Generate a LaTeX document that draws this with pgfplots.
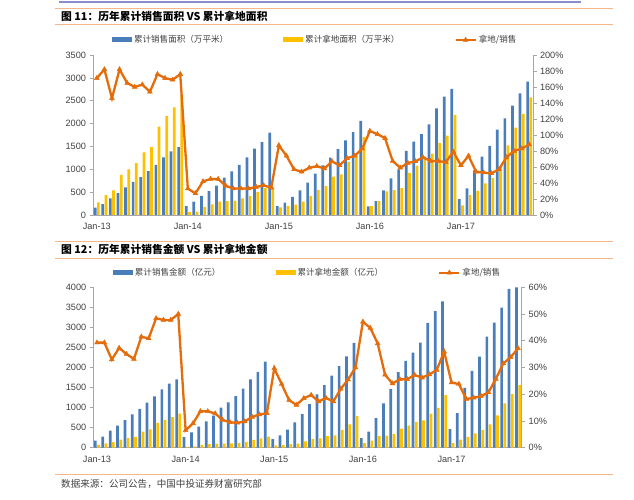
\documentclass[border=0pt]{standalone}
\usepackage{fontspec}
\usepackage{pgfplots}
\usepackage{pgfplotstable}
\pgfplotsset{compat=1.18}
\setmainfont{Liberation Sans}
\newfontfamily\cjk{Noto Sans CJK SC}
\definecolor{cblue}{HTML}{4A7EBB}
\definecolor{cyellow}{HTML}{FFC000}
\definecolor{corange}{HTML}{E46C0A}
\definecolor{csep}{HTML}{F8B58A}
\definecolor{ctop}{HTML}{8A8CCB}
\definecolor{caxis}{HTML}{A6A6A6}
\definecolor{ctxt}{HTML}{404040}

\pgfplotstableread{
i sale land ratio
0 160 277 171
1 240 437 182
2 365 540 146
3 481 875 182
4 605 999 165
5 722 1137 160
6 831 1371 163
7 962 1487 154
8 1094 1932 176
9 1261 2165 171
10 1392 2355 169
11 1487 2624 176
12 192 65 33
13 292 72 27
14 416 175 42
15 520 233 45
16 641 290 45
17 820 305 36.5
18 955 316 33
19 1094 362 33
20 1258 412 33
21 1451 505 35
22 1594 592 37
23 1801 612 34
24 192 166 87
25 272 200 74
26 397 226 57
27 539 292 54
28 707 416 59
29 906 550 61
30 1088 632 58
31 1256 840 67
32 1443 888 62
33 1630 1160 71
34 1815 1320 74
35 2060 1710 83
36 186 195 105
37 306 306 101
38 539 515 96
39 802 545 67.5
40 999 590 59
41 1400 920 65
42 1604 1080 67
43 1768 1275 72
44 1983 1340 67.5
45 2333 1570 67.5
46 2590 1735 66
47 2760 2190 79
48 345 213 62
49 583 432 74
50 975 530 54
51 1276 690 53
52 1512 805 52
53 1868 1050 57
54 2115 1522 72
55 2394 1910 80
56 2661 2210 83
57 2916 2575 88
}\dataA

\pgfplotstableread{
i sale land ratio
0 178 69 39.3
1 274 105 39.3
2 428 138 33
3 553 203 37.3
4 690 242 35
5 832 272 33.2
6 969 400 41.5
7 1123 455 40.9
8 1281 618 48.4
9 1455 692 47.8
10 1597 760 47.8
11 1705 850 50
12 262 20 6.5
13 383 35 9.1
14 528 71 13.6
15 657 89 13.6
16 798 102 12.8
17 1002 103 10.4
18 1131 107 9.5
19 1289 120 9.3
20 1476 145 9.8
21 1705 196 11.5
22 1892 235 12.4
23 2146 277 12.9
24 216 60 29.7
25 308 70 23.8
26 449 90 17.8
27 632 100 16
28 840 155 18.5
29 1089 213 19.7
30 1331 230 17.3
31 1559 290 18.6
32 1800 310 17.3
33 2037 447 22
34 2275 582 25.5
35 2611 785 30
36 241 114 47.1
37 403 179 44.8
38 740 289 39
39 1106 301 27.3
40 1464 345 24
41 1884 478 25.6
42 2166 552 25.6
43 2370 643 27.2
44 2620 680 26.2
45 3114 848 27.4
46 3405 995 29.1
47 3647 1312 35.9
48 466 111 24.4
49 861 200 23.8
50 1493 270 18.2
51 1917 358 18.7
52 2270 445 19.3
53 2769 582 20.7
54 3122 808 25.7
55 3493 1103 31.5
56 3958 1338 33.8
57 4000 1560 37.2
}\dataB

\pgfplotsset{
  baseaxis/.style={
    scale only axis,
    xmin=-0.5, xmax=57.5,
    axis line style={caxis, line width=0.8bp},
    major tick length=3.5bp, tick align=outside,
    tick style={caxis, line width=0.6bp},
    tick label style={font=\fontsize{9.2}{10}\selectfont, text=ctxt},
    /pgf/number format/assume math mode=true,
    scaled y ticks=false,
    yticklabel style={/pgf/number format/1000 sep={}},
  },
  leftaxis/.style={
    baseaxis,
    axis x line*=bottom, axis y line*=left,
    x axis line style={-}, y axis line style={-},
    xtick={0,12,24,36,48},
    xticklabels={Jan-13,Jan-14,Jan-15,Jan-16,Jan-17},
    xtick style={draw=none},
    xticklabel style={yshift=-1bp},
    legend columns=3,
    legend style={draw=none, fill=none, inner sep=0pt,
      font=\cjk\fontsize{8.6}{10}\selectfont, text=ctxt,
      /tikz/every even column/.append style={column sep=53bp}},
  },
  rightaxis/.style={
    baseaxis,
    axis y line*=right, axis x line=none,
    y axis line style={-},
    yticklabel={\pgfmathprintnumber{\tick}\%},
  },
  bluebar/.style={ybar, bar width=2.7bp, bar shift=-1.6bp, fill=cblue, draw=none,
    legend image code/.code={\fill[cblue] (0bp,-2.5bp) rectangle (20bp,2.5bp);}},
  yellowbar/.style={ybar, bar width=2.7bp, bar shift=1.6bp, fill=cyellow, draw=none,
    legend image code/.code={\fill[cyellow] (0bp,-2.5bp) rectangle (20bp,2.5bp);}},
  ratioline/.style={corange, line width=2.3bp, mark=triangle*, mark size=2.8bp,
    mark options={fill=corange, line width=0.4bp},
    legend image code/.code={\draw[mark repeat=2,mark phase=2,##1] plot coordinates {(0bp,0bp) (10bp,0bp) (20bp,0bp)};}},
}

\begin{document}
\begin{tikzpicture}
\path[use as bounding box] (0bp,0bp) rectangle (634bp,500bp);
% ---------- header of figure 11
\draw[ctop, line width=2bp] (59bp,498.3bp) -- (581bp,498.3bp);
\draw[csep, line width=1bp] (55bp,491bp) -- (613bp,491bp);
\node[anchor=west, inner sep=0pt, font=\cjk\bfseries\fontsize{10.8}{12}\selectfont] at (61bp,484bp) {图\ 11：历年累计销售面积 VS 累计拿地面积};
\draw[csep, line width=1bp] (55bp,475bp) -- (613bp,475bp);
% ---------- figure 11
\begin{axis}[leftaxis, at={(93bp,285bp)}, anchor=south west, width=440bp, height=160bp,
  ymin=0, ymax=3500, ytick={0,500,...,3500},
  legend style={at={(0.505,1.094)}, anchor=center}]
\addplot[bluebar] table[x=i,y=sale]{\dataA};
\addlegendentry{累计销售面积（万平米）}
\addplot[yellowbar] table[x=i,y=land]{\dataA};
\addlegendentry{累计拿地面积（万平米）}
\addlegendimage{ratioline}
\addlegendentry{拿地/销售}
\end{axis}
\begin{axis}[rightaxis, at={(93bp,285bp)}, anchor=south west, width=440bp, height=160bp,
  ymin=0, ymax=200, ytick={0,20,...,200}]
\addplot[ratioline] table[x=i,y=ratio]{\dataA};
\end{axis}
% ---------- header of figure 12
\draw[csep, line width=1bp] (55bp,258.3bp) -- (613bp,258.3bp);
\node[anchor=west, inner sep=0pt, font=\cjk\bfseries\fontsize{10.8}{12}\selectfont] at (61bp,251bp) {图\ 12：历年累计销售金额 VS 累计拿地金额};
\draw[csep, line width=1bp] (55bp,241.7bp) -- (613bp,241.7bp);
% ---------- figure 12
\begin{axis}[leftaxis, at={(93.3bp,52.3bp)}, anchor=south west, width=428.4bp, height=160.4bp,
  ymin=0, ymax=4000, ytick={0,500,...,4000},
  legend style={at={(0.5,1.091)}, anchor=center}]
\addplot[bluebar] table[x=i,y=sale]{\dataB};
\addlegendentry{累计销售金额（亿元）}
\addplot[yellowbar] table[x=i,y=land]{\dataB};
\addlegendentry{累计拿地金额（亿元）}
\addlegendimage{ratioline}
\addlegendentry{拿地/销售}
\end{axis}
\begin{axis}[rightaxis, at={(93.3bp,52.3bp)}, anchor=south west, width=428.4bp, height=160.4bp,
  ymin=0, ymax=60, ytick={0,10,...,60}]
\addplot[ratioline] table[x=i,y=ratio]{\dataB};
\end{axis}
\draw[csep, line width=1bp] (55bp,25.7bp) -- (613bp,25.7bp);
\node[anchor=west, inner sep=0pt, font=\cjk\fontsize{9.6}{12}\selectfont, text=ctxt] at (61bp,16bp) {数据来源：公司公告，中国中投证券财富研究部};
\end{tikzpicture}
\end{document}
